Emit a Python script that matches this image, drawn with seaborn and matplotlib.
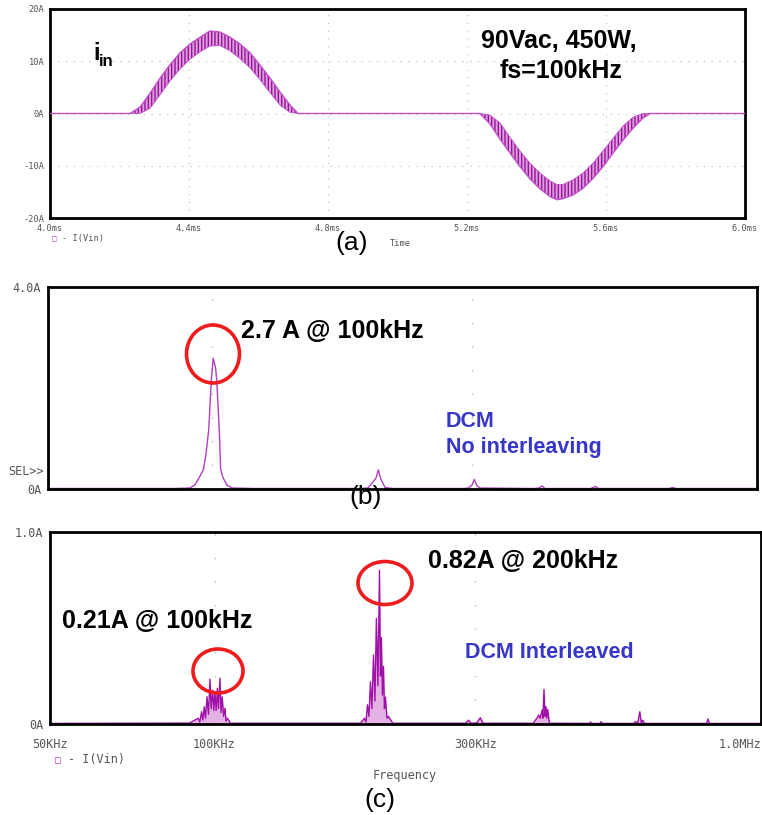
import matplotlib
matplotlib.use("Agg")
import matplotlib.pyplot as plt
import seaborn as sns
import pandas as pd
from matplotlib.patches import Ellipse
from matplotlib.ticker import FixedLocator, NullLocator, FixedFormatter

# ---------------- data ----------------
# (a) input current envelope (ms, A): outer edge and inner edge of the switching band
t_ms = [4.0, 4.230, 4.259, 4.288, 4.317, 4.345, 4.374, 4.403, 4.432, 4.460, 4.489,
        4.518, 4.547, 4.576, 4.604, 4.633, 4.662, 4.691, 4.714,
        5.237, 5.266, 5.295, 5.324, 5.353, 5.381, 5.410, 5.439, 5.459, 5.476,
        5.505, 5.534, 5.563, 5.591, 5.620, 5.649, 5.678, 5.706, 5.727, 6.0]
i_outer = [0, 0, 1.2, 3.9, 6.8, 9.3, 11.6, 13.3, 14.6, 15.8, 15.6,
           14.6, 13.3, 11.6, 9.3, 6.8, 4.1, 1.6, 0,
           0, -2.0, -4.9, -7.6, -10.2, -12.5, -14.4, -15.9, -16.5, -16.3,
           -15.6, -14.3, -12.4, -10.2, -7.6, -5.1, -2.8, -0.9, 0, 0]
i_inner = [0, 0, 0, 1.0, 3.6, 6.2, 8.5, 10.4, 11.8, 12.9, 13.0,
           12.0, 10.5, 8.7, 6.5, 4.0, 1.6, 0.2, 0,
           0, -0.3, -1.8, -4.6, -7.2, -9.5, -11.4, -12.9, -13.6, -13.6,
           -12.7, -11.4, -9.5, -7.2, -4.8, -2.4, -0.7, 0, 0, 0]
time_ticks = [4.0, 4.4, 4.8, 5.2, 5.6, 6.0]
time_labels = ["4.0ms", "4.4ms", "4.8ms", "5.2ms", "5.6ms", "6.0ms"]
cur_ticks = [-20, -10, 0, 10, 20]
cur_labels = ["-20A", "-10A", "0A", "10A", "20A"]

# (b) spectrum, DCM no interleaving (Hz, A)
freq_b = [50e3, 85e3, 91e3, 93e3, 95e3, 96.4e3, 97.5e3, 98.6e3, 99.7e3, 100.5e3,
          101.5e3, 102.0e3, 103.1e3, 103.7e3, 104.5e3, 106.4e3, 108.8e3, 120e3,
          185e3, 193.3e3, 197.7e3, 200e3, 201.9e3, 204e3, 207.7e3, 215e3,
          290e3, 295.3e3, 300e3, 302.9e3, 306e3, 310.2e3,
          390e3, 398e3, 403.6e3, 408e3, 495e3, 505.8e3, 512e3,
          690e3, 700e3, 710e3, 1e6]
amp_b = [0.01, 0.01, 0.02, 0.08, 0.25, 0.38, 0.7, 1.17, 2.16, 2.59,
         2.4, 2.16, 1.17, 0.4, 0.25, 0.08, 0.02, 0.01,
         0.01, 0.02, 0.15, 0.22, 0.38, 0.2, 0.03, 0.01,
         0.01, 0.02, 0.08, 0.19, 0.07, 0.02,
         0.01, 0.02, 0.06, 0.01, 0.01, 0.05, 0.01,
         0.01, 0.03, 0.01, 0.01]

# (c) spectrum, DCM interleaved (Hz, A)
freq_c = [50e3, 90e3, 93.4e3, 94.0e3, 94.7e3, 95.2e3, 95.8e3, 96.3e3, 96.9e3, 97.5e3,
          98.1e3, 98.6e3, 99.2e3, 99.7e3, 100.2e3, 100.7e3, 101.2e3, 101.7e3, 102.3e3,
          102.8e3, 103.3e3, 103.9e3, 104.5e3, 105.0e3, 105.6e3, 107e3,
          185e3, 188.1e3, 189.3e3, 190.5e3, 191.7e3, 192.9e3, 194.1e3, 195.4e3, 196.6e3,
          197.8e3, 199.1e3, 200.4e3, 201.2e3, 202.0e3, 202.9e3, 203.8e3, 204.6e3,
          205.5e3, 206.8e3, 208.1e3, 212e3,
          288e3, 291.6e3, 295e3, 302e3, 306.4e3, 310e3,
          383e3, 386.6e3, 389e3, 392.0e3, 394.5e3, 397.5e3, 399e3, 400.8e3, 402.5e3,
          404.2e3, 405.5e3, 407.1e3, 410e3,
          485e3, 487.4e3, 490e3, 507e3, 509.8e3, 512e3,
          585e3, 589.3e3, 595e3, 600.1e3, 604e3, 607.7e3, 612e3,
          795e3, 799.9e3, 805e3, 1e6]
amp_c = [0.003, 0.005, 0.030, 0.010, 0.064, 0.020, 0.090, 0.030, 0.142, 0.050,
         0.233, 0.080, 0.177, 0.070, 0.168, 0.070, 0.186, 0.080, 0.238,
         0.060, 0.142, 0.040, 0.082, 0.015, 0.030, 0.004,
         0.004, 0.030, 0.010, 0.100, 0.040, 0.220, 0.080, 0.360, 0.120,
         0.550, 0.200, 0.800, 0.250, 0.450, 0.150, 0.300, 0.080,
         0.140, 0.030, 0.040, 0.004,
         0.004, 0.020, 0.004, 0.006, 0.033, 0.004,
         0.004, 0.020, 0.030, 0.047, 0.030, 0.073, 0.030, 0.180, 0.040,
         0.090, 0.030, 0.076, 0.004,
         0.003, 0.010, 0.003, 0.003, 0.012, 0.003,
         0.003, 0.012, 0.005, 0.064, 0.005, 0.020, 0.003,
         0.003, 0.026, 0.003, 0.003]
freq_ticks = [50e3, 100e3, 300e3, 1e6]
freq_labels = ["50KHz", "100KHz", "300KHz", "1.0MHz"]

# ---------------- figure ----------------
W, H = 762, 815
sns.set_theme(style="white")
plt.rcParams['font.family'] = ['Liberation Sans', 'DejaVu Sans']
plt.rcParams['text.color'] = 'black'
MONO = 'DejaVu Sans Mono'
GRAY = '#555555'
MAG = '#b040c0'
BLUE = '#3636c8'
RED = '#ee1c1c'

fig = plt.figure(figsize=(W / 100, H / 100), dpi=100)


def ax_at(l, t, r, b):
    return fig.add_axes([l / W, 1 - b / H, (r - l) / W, (b - t) / H])


def fx(x):
    return x / W


def fy(y):
    return 1 - y / H


def style_axes(ax, labelsize, pad=2):
    ax.set_facecolor('white')
    for s in ax.spines.values():
        s.set_color('black')
        s.set_linewidth(2.0)
    ax.tick_params(axis='both', which='major', direction='out', length=3, width=0.8,
                   color='#888888', labelcolor=GRAY, labelsize=labelsize, pad=pad)
    for lab in ax.get_xticklabels() + ax.get_yticklabels():
        lab.set_family(MONO)
    ax.set_xlabel('')
    ax.set_ylabel('')


# ---- (a) ----
axA = ax_at(50, 9, 745, 218)
dfa = pd.DataFrame({'t': t_ms, 'outer': i_outer, 'inner': i_inner})
axA.fill_between(dfa['t'], dfa['inner'], dfa['outer'], facecolor='#d9a2dc',
                 edgecolor='#9c109c', hatch='|||||', linewidth=0, zorder=2)
sns.lineplot(data=dfa, x='t', y='outer', ax=axA, color='#c050c8', lw=1.0,
             estimator=None, zorder=3)
sns.lineplot(data=dfa, x='t', y='inner', ax=axA, color='#c050c8', lw=0.6,
             estimator=None, zorder=3)
axA.set_xlim(4.0, 6.0)
axA.set_ylim(-20, 20)
axA.xaxis.set_major_locator(FixedLocator(time_ticks))
axA.xaxis.set_major_formatter(FixedFormatter(time_labels))
axA.yaxis.set_major_locator(FixedLocator(cur_ticks))
axA.yaxis.set_major_formatter(FixedFormatter(cur_labels))
axA.grid(True, ls=(0, (1, 6)), color='#bbbbbb', lw=0.8)
style_axes(axA, 6.2, pad=1)

fig.text(fx(93), fy(60), 'i', fontsize=17, fontweight='bold', color='black')
fig.text(fx(99), fy(66), 'in', fontsize=12, fontweight='bold', color='black')
fig.text(fx(559), fy(48), '90Vac, 450W,', fontsize=18, fontweight='bold', ha='center')
fig.text(fx(561), fy(78), 'fs=100kHz', fontsize=18, fontweight='bold', ha='center')
fig.text(fx(52), fy(239), '\u25a1', fontsize=5.5, color=MAG, family=MONO, va='center')
fig.text(fx(62), fy(239), '- I(Vin)', fontsize=6.2, color=GRAY, family=MONO, va='center')
fig.text(fx(390), fy(243), 'Time', fontsize=6.2, color=GRAY, family=MONO, va='center')
fig.text(fx(352), fy(243), '(a)', fontsize=19, ha='center', va='center')

# ---- (b) ----
axB = ax_at(48, 287, 757, 489)
dfb = pd.DataFrame({'f': freq_b, 'a': amp_b})
sns.lineplot(data=dfb, x='f', y='a', ax=axB, color=MAG, lw=1.0, estimator=None)
axB.set_xscale('log')
axB.set_xlim(50e3, 1e6)
axB.set_ylim(0, 4.0)
axB.xaxis.set_major_locator(FixedLocator([100e3, 300e3]))
axB.xaxis.set_minor_locator(NullLocator())
axB.xaxis.set_major_formatter(FixedFormatter(['', '']))
axB.yaxis.set_major_locator(FixedLocator([0, 4.0]))
axB.yaxis.set_major_formatter(FixedFormatter(['0A', '4.0A']))
axB.grid(True, axis='x', ls=(0, (1, 16)), color='#bbbbbb', lw=1.0)
style_axes(axB, 8.5)
axB.tick_params(axis='x', length=0)
axB.text(-0.006, 0.35 / 4.0, 'SEL>>', transform=axB.transAxes, ha='right', va='center',
         fontsize=8.5, color=GRAY, family=MONO)

fig.text(fx(241), fy(338), '2.7 A @ 100kHz', fontsize=18, fontweight='bold')
fig.text(fx(446), fy(427), 'DCM', fontsize=15.5, fontweight='bold', color=BLUE)
fig.text(fx(446), fy(453), 'No interleaving', fontsize=15.5, fontweight='bold', color=BLUE)
fig.text(fx(366), fy(497), '(b)', fontsize=19, ha='center', va='center')
fig.add_artist(Ellipse((fx(213), fy(354)), 53 / W, 58 / H, transform=fig.transFigure,
                       fill=False, ec=RED, lw=2.6))

# ---- (c) ----
axC = ax_at(50, 532, 761, 724)
dfc = pd.DataFrame({'f': freq_c, 'a': amp_c})
axC.fill_between(dfc['f'], 0, dfc['a'], color='#b020b0', alpha=0.35, lw=0)
sns.lineplot(data=dfc, x='f', y='a', ax=axC, color='#a010a8', lw=1.0, estimator=None)
axC.set_xscale('log')
axC.set_xlim(50e3, 1e6)
axC.set_ylim(0, 1.0)
axC.xaxis.set_major_locator(FixedLocator(freq_ticks))
axC.xaxis.set_minor_locator(NullLocator())
axC.xaxis.set_major_formatter(FixedFormatter(freq_labels))
axC.yaxis.set_major_locator(FixedLocator([0, 1.0]))
axC.yaxis.set_major_formatter(FixedFormatter(['0A', '1.0A']))
axC.grid(True, axis='x', ls=(0, (1, 16)), color='#bbbbbb', lw=1.0)
style_axes(axC, 8.5)
axC.tick_params(axis='x', pad=7)
xl = axC.get_xticklabels()
xl[-1].set_horizontalalignment('right')

fig.text(fx(428), fy(568), '0.82A @ 200kHz', fontsize=18, fontweight='bold')
fig.text(fx(62), fy(628), '0.21A @ 100kHz', fontsize=18, fontweight='bold')
fig.text(fx(465), fy(658), 'DCM Interleaved', fontsize=15.5, fontweight='bold', color=BLUE)
fig.text(fx(55), fy(760), '\u25a1', fontsize=7, color=MAG, family=MONO, va='center')
fig.text(fx(68), fy(760), '- I(Vin)', fontsize=8.5, color=GRAY, family=MONO, va='center')
fig.text(fx(405), fy(775), 'Frequency', fontsize=8.5, color=GRAY, family=MONO,
         ha='center', va='center')
fig.text(fx(380), fy(800), '(c)', fontsize=19, ha='center', va='center')
fig.add_artist(Ellipse((fx(218), fy(671)), 50 / W, 44 / H, transform=fig.transFigure,
                       fill=False, ec=RED, lw=2.6))
fig.add_artist(Ellipse((fx(385), fy(583)), 54 / W, 43 / H, transform=fig.transFigure,
                       fill=False, ec=RED, lw=2.6))

fig.savefig('out.png', dpi=100)
